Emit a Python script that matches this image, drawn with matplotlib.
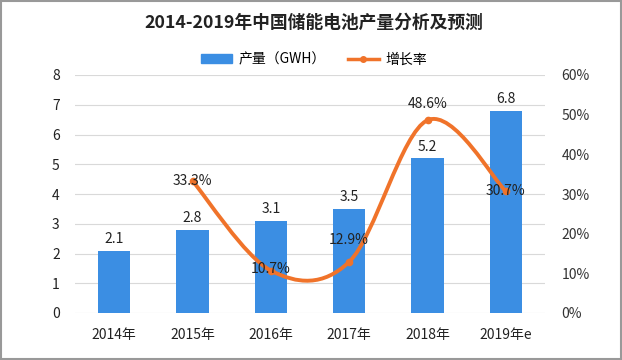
import matplotlib.pyplot as plt
from matplotlib.path import Path
from matplotlib.patches import PathPatch, Rectangle
from matplotlib.lines import Line2D

plt.rcParams['font.family'] = ['Noto Sans CJK SC', 'DejaVu Sans']

# 数据
years = ['2014年', '2015年', '2016年', '2017年', '2018年', '2019年e']
output = [2.1, 2.8, 3.1, 3.5, 5.2, 6.8]
growth = [None, 33.3, 10.7, 12.9, 48.6, 30.7]

bar_color = '#3b8ee3'
line_color = '#f0732a'

fig = plt.figure(figsize=(6.22, 3.6), dpi=100)
ax = fig.add_axes([75 / 622, 47 / 360, 470 / 622, 238 / 360])
ax2 = ax.twinx()

x = list(range(len(years)))
ax.bar(x, output, width=0.41, color=bar_color, zorder=2)
for i, v in enumerate(output):
    ax.text(i, v + 0.15, f'{v}', ha='center', va='bottom', fontsize=10, color='#222222')

ax.set_xlim(-0.5, len(years) - 0.5)
ax.set_ylim(0, 8)
ax.set_yticks(range(0, 9))
ax.set_xticks(x)
ax.set_xticklabels(years, fontsize=10)
ax.tick_params(axis='both', length=0, labelsize=10, colors='#222222')
ax.tick_params(axis='x', pad=11)
ax.tick_params(axis='y', pad=11)
ax.grid(axis='y', color='#d9d9d9', linewidth=0.8, zorder=0)
for s in ax.spines.values():
    s.set_visible(False)

# 平滑曲线 (Catmull-Rom 转 Bezier)
px = [i for i, g in enumerate(growth) if g is not None]
py = [g for g in growth if g is not None]
verts = [(px[0], py[0])]
codes = [Path.MOVETO]
n = len(px)
for i in range(n - 1):
    p0 = (px[i - 1], py[i - 1]) if i > 0 else (px[i], py[i])
    p1 = (px[i], py[i])
    p2 = (px[i + 1], py[i + 1])
    p3 = (px[i + 2], py[i + 2]) if i + 2 < n else (px[i + 1], py[i + 1])
    c1 = (p1[0] + (p2[0] - p0[0]) / 6, p1[1] + (p2[1] - p0[1]) / 6)
    c2 = (p2[0] - (p3[0] - p1[0]) / 6, p2[1] - (p3[1] - p1[1]) / 6)
    verts += [c1, c2, p2]
    codes += [Path.CURVE4] * 3
ax2.add_patch(PathPatch(Path(verts, codes), facecolor='none', edgecolor=line_color,
                        linewidth=2.8, capstyle='round', zorder=3))
ax2.plot(px, py, linestyle='none', marker='o', markersize=4.5, color=line_color, zorder=3)

offsets = [0, 0, 1, 16, 12, 0]
for i, g in enumerate(growth):
    if g is None:
        continue
    ax2.annotate(f'{g}%', (i, g), xytext=(0, offsets[i]), textcoords='offset points',
                 ha='center', va='center', fontsize=10, color='#222222', zorder=4)

ax2.set_ylim(0, 60)
ax2.set_yticks(range(0, 61, 10))
ax2.set_yticklabels([f'{t}%' for t in range(0, 61, 10)])
ax2.tick_params(axis='y', length=0, labelsize=10, colors='#333333', pad=12)
for s in ax2.spines.values():
    s.set_visible(False)

fig.text(0.505, 0.937, '2014-2019年中国储能电池产量分析及预测', ha='center', va='center',
         fontsize=12.8, fontweight='bold', color='#222222')

handles = [Rectangle((0, 0), 1, 1, color=bar_color),
           Line2D([0], [0], color=line_color, linewidth=2.5, marker='o', markersize=4)]
fig.legend(handles, ['产量（GWH）', '增长率'], loc='center', bbox_to_anchor=(0.505, 0.835),
           ncol=2, frameon=False, fontsize=10, handlelength=2.2, handleheight=0.6,
           handletextpad=0.5, columnspacing=1.6)

fig.patches.append(Rectangle((0.002, 0.003), 0.996, 0.994, transform=fig.transFigure,
                             fill=False, edgecolor='#999999', linewidth=1.5))

fig.savefig('out.png', dpi=100)
